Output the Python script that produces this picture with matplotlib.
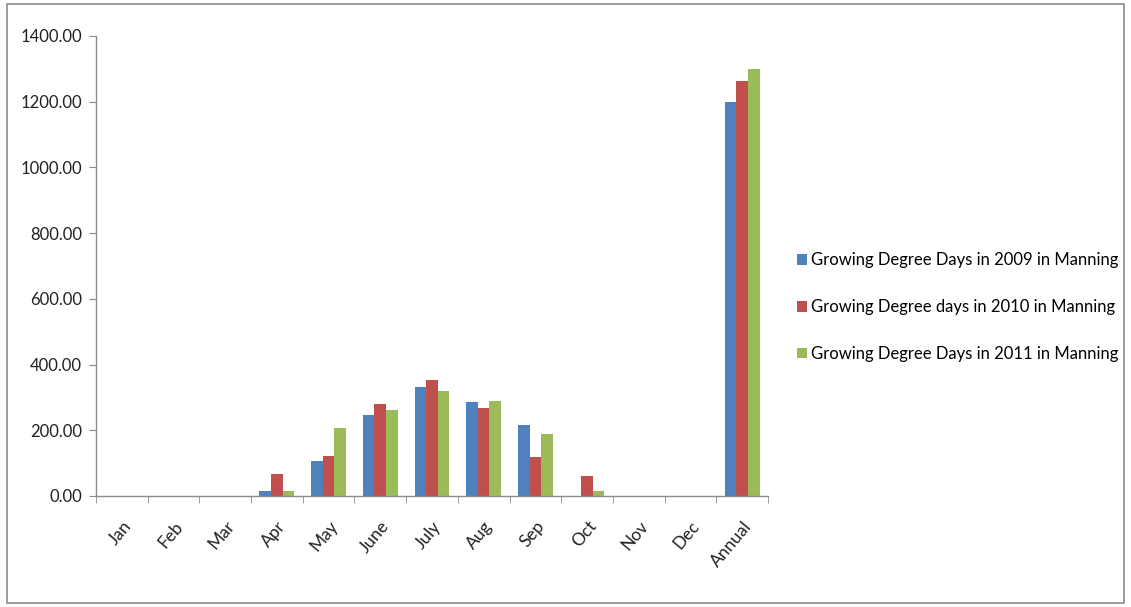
import matplotlib
matplotlib.use("Agg")
import matplotlib.pyplot as plt
import numpy as np
from matplotlib.patches import Rectangle

plt.rcParams['font.family'] = ['Lato', 'DejaVu Sans']

categories = ["Jan", "Feb", "Mar", "Apr", "May", "June", "July", "Aug", "Sep", "Oct", "Nov", "Dec", "Annual"]
gdd_2009 = [0, 0, 0, 15, 106, 246, 331, 285, 216, 0, 0, 0, 1198]
gdd_2010 = [0, 0, 0, 66, 121, 281, 352, 269, 118, 60, 0, 0, 1264]
gdd_2011 = [0, 0, 0, 15, 206, 262, 320, 290, 188, 16, 0, 0, 1300]
series_labels = ["Growing Degree Days in 2009 in Manning",
                 "Growing Degree days in 2010 in Manning",
                 "Growing Degree Days in 2011 in Manning"]
colors = ["#4F81BD", "#C0504D", "#9BBB59"]
yticks = [0, 200, 400, 600, 800, 1000, 1200, 1400]

fig = plt.figure(figsize=(11.31, 6.07), dpi=100)
ax = fig.add_axes([0.0849, 0.1829, 0.5941, 0.7578])

x = np.arange(len(categories))
w = 0.225
for i, (vals, lab, c) in enumerate(zip([gdd_2009, gdd_2010, gdd_2011], series_labels, colors)):
    ax.bar(x + (i - 1) * w, vals, width=w, color=c, label=lab, linewidth=0)

ax.set_xlim(-0.5, len(categories) - 0.5)
ax.set_ylim(0, 1400)
ax.set_yticks(yticks)
ax.set_yticklabels([f"{v:.2f}" for v in yticks], fontsize=12, color="#222222")
ax.set_xticks(x)
ax.set_xticklabels(categories, rotation=50, ha="right", va="top", rotation_mode="anchor",
                   fontsize=12.5, color="#222222")
ax.set_xticks(np.arange(-0.5, len(categories)), minor=True)
ax.tick_params(axis="x", which="major", length=0, pad=16)
ax.tick_params(axis="x", which="minor", length=5, color="#8c8c8c", direction="out")
ax.tick_params(axis="y", length=5, color="#8c8c8c", direction="out", pad=5)

for s in ["top", "right"]:
    ax.spines[s].set_visible(False)
for s in ["left", "bottom"]:
    ax.spines[s].set_color("#8c8c8c")
    ax.spines[s].set_linewidth(1.0)

leg = fig.legend(loc="center left", bbox_to_anchor=(0.697, 0.494), frameon=False,
                 fontsize=12, handlelength=0.6, handleheight=0.6, handletextpad=0.25,
                 labelspacing=1.85, borderpad=0)

fig.patches.append(Rectangle((0.006, 0.006), 0.988, 0.988, transform=fig.transFigure,
                             fill=False, edgecolor="#8c8c8c", linewidth=1.2))

fig.savefig("out.png", dpi=100)
